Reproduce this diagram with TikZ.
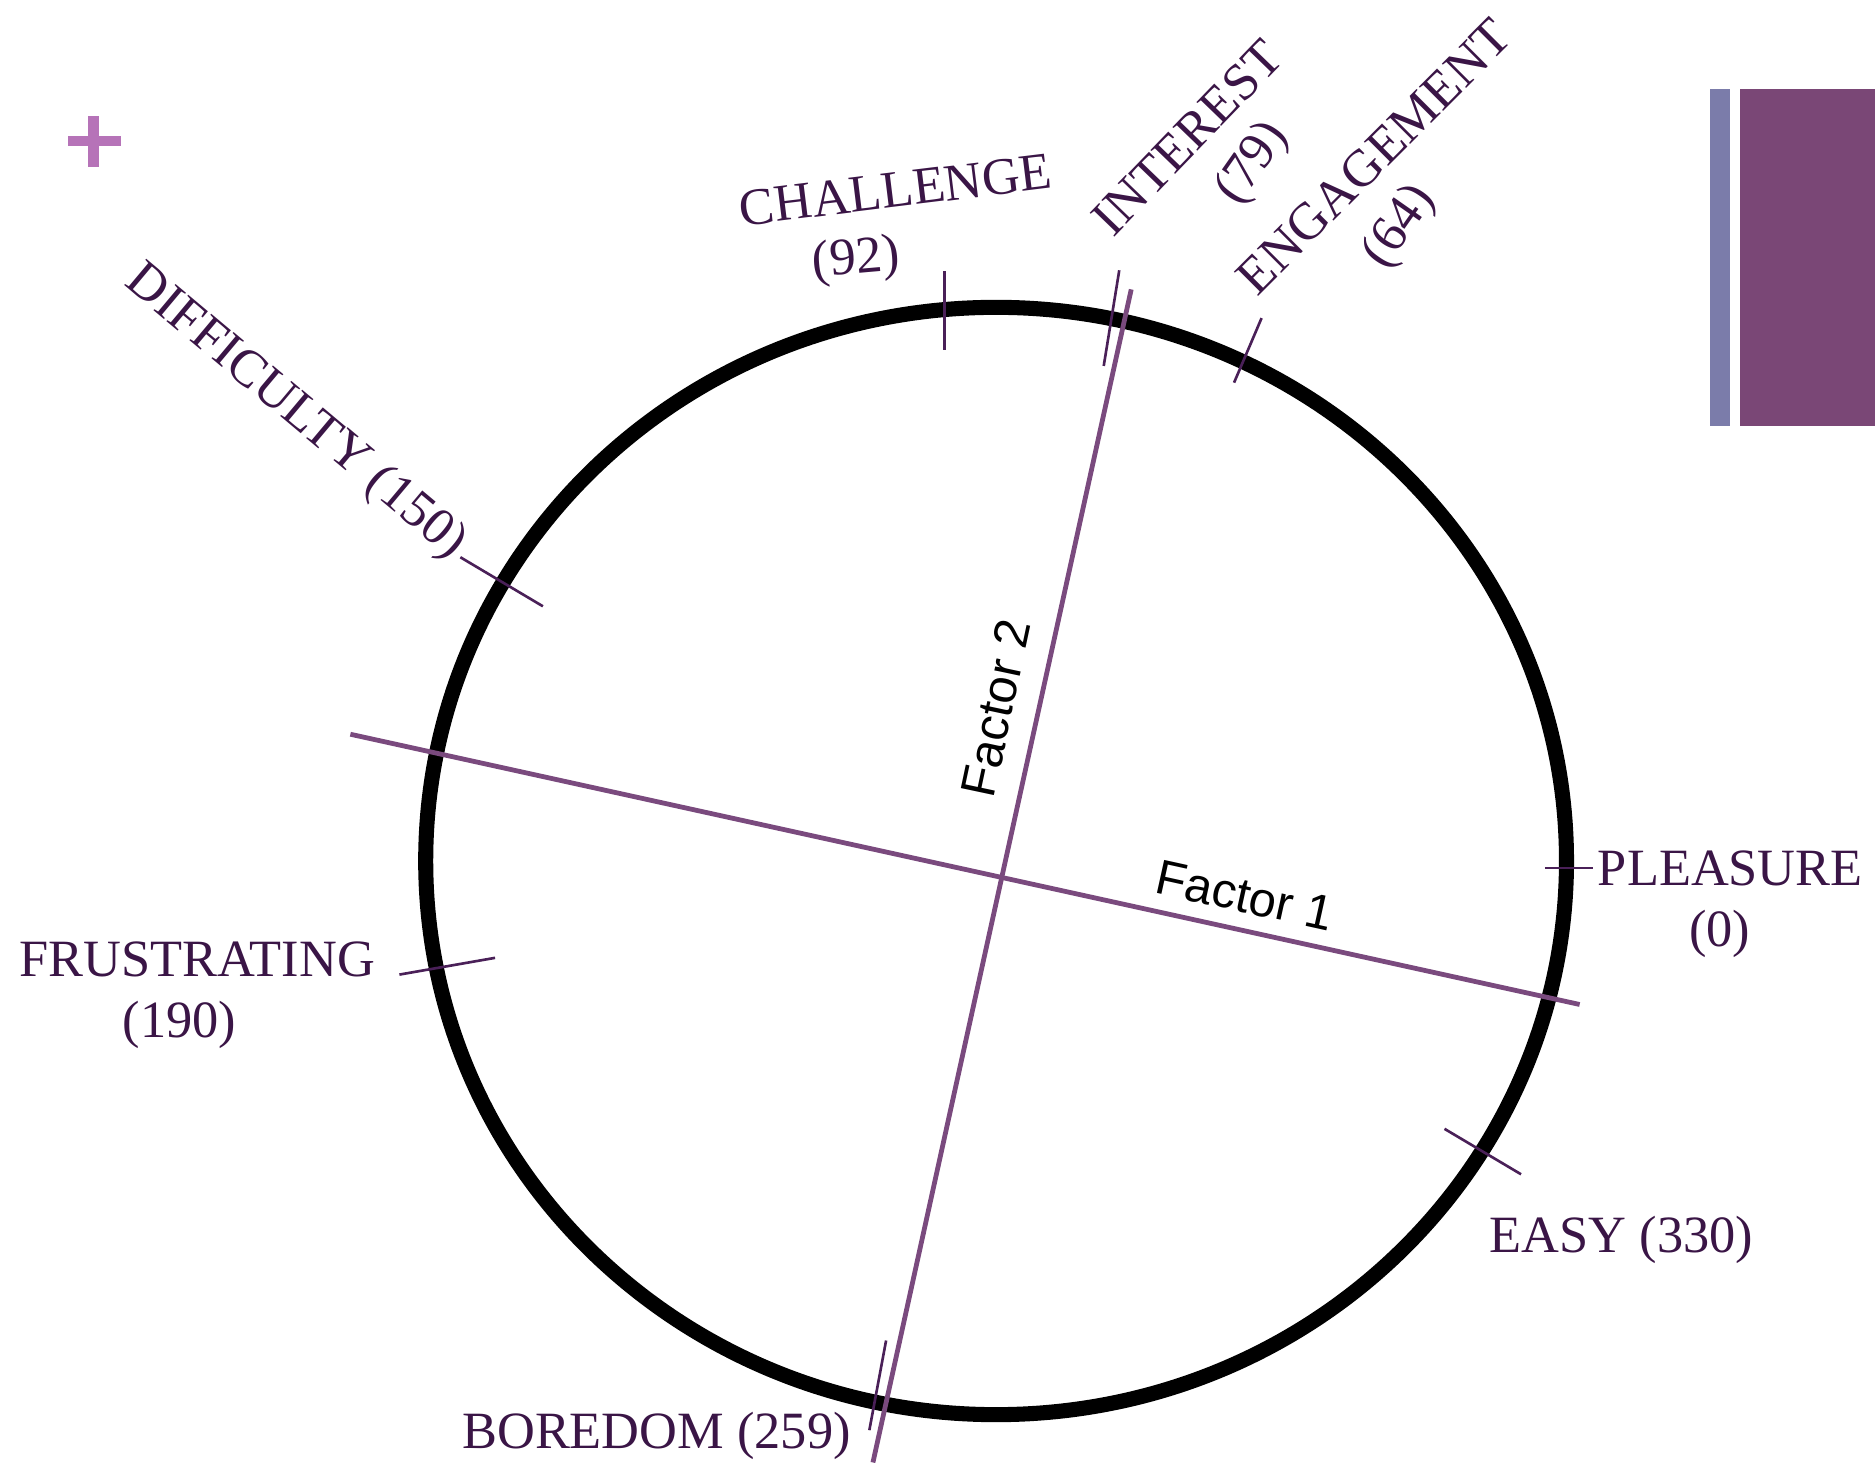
\documentclass[tikz,border=0pt]{standalone}
\usepackage{fontspec}
\setmainfont{Liberation Serif}
\newfontfamily\sansf{Liberation Sans}
\definecolor{txt}{HTML}{3A1546}
\definecolor{axis}{HTML}{7A4A7E}
\definecolor{tick}{HTML}{4A2058}
\definecolor{plus}{HTML}{B673B8}
\definecolor{barA}{HTML}{7B7CAA}
\definecolor{barB}{HTML}{7A4776}
\tikzset{
  lbl/.style={text=txt, inner sep=0pt, font=\fontsize{21.9}{26}\selectfont},
  flbl/.style={text=black, inner sep=0pt, font=\sansf\fontsize{20.5}{24}\selectfont},
  axisline/.style={draw=axis, line width=2pt},
  tickline/.style={draw=tick, line width=1.1pt},
}
\begin{document}
\begin{tikzpicture}[x=0.5pt,y=-0.5pt]
\useasboundingbox (0,0) rectangle (1568,1223);
% decorations
\fill[plus] (57,113.5) rectangle (101,122.5);
\fill[plus] (73.5,97) rectangle (82.5,140);
\fill[barA] (1430,74) rectangle (1447,356);
\fill[barB] (1455,74) rectangle (1568,356);
% circle
\draw[line width=6.3pt] (833,720) ellipse [x radius=238.5pt, y radius=231.5pt];
% factor axes
\coordinate (f1a) at (293,614);
\coordinate (f1b) at (1321,840);
\coordinate (f2a) at (946,242);
\coordinate (f2b) at (730,1223);
\draw[axisline] (f1a) -- (f1b);
\draw[axisline] (f2a) -- (f2b);
\node[flbl, rotate=78] (fac2) at (833,592) {Factor 2};
\node[flbl, rotate=-12.4] (fac1) at (1041,749) {Factor 1};
% ticks
\coordinate (t1a) at (790,227); \coordinate (t1b) at (790,293);
\coordinate (t2a) at (936,226); \coordinate (t2b) at (923,306);
\coordinate (t3a) at (1055,266); \coordinate (t3b) at (1032,320);
\coordinate (t4a) at (385,466); \coordinate (t4b) at (454,507);
\coordinate (t5a) at (334,815); \coordinate (t5b) at (414,801);
\coordinate (t6a) at (1292,726); \coordinate (t6b) at (1332,726);
\coordinate (t7a) at (1208,944); \coordinate (t7b) at (1272,982);
\coordinate (t8a) at (741,1121); \coordinate (t8b) at (727,1196);
\foreach \i in {1,...,8} \draw[tickline] (t\i a) -- (t\i b);
% labels
\node[lbl, rotate=7] (chal) at (749,159) {CHALLENGE};
\node[lbl, rotate=5] (chaln) at (716,218) {(92)};
\node[lbl, rotate=46] (inte) at (993,115) {INTEREST};
\node[lbl, rotate=55] (inten) at (1048,137) {(79)};
\node[lbl, rotate=45] (enga) at (1149,131) {ENGAGEMENT};
\node[lbl, rotate=55] (engan) at (1171,190) {(64)};
\node[lbl, rotate=-40] (diff) at (247,345) {DIFFICULTY (150)};
\node[lbl] (frus) at (165,802) {FRUSTRATING};
\node[lbl] (frusn) at (150,857) {(190)};
\node[lbl] (plea) at (1447,726) {PLEASURE};
\node[lbl] (plean) at (1438,781) {(0)};
\node[lbl] (easy) at (1356,1037) {EASY (330)};
\node[lbl] (bore) at (549,1201) {BOREDOM (259)};
\end{tikzpicture}
\end{document}
